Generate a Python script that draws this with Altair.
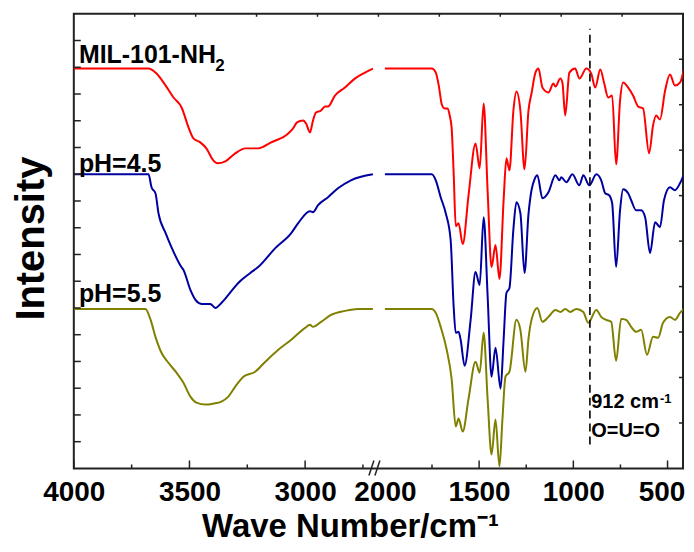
import altair as alt
import pandas as pd

FONT = "Liberation Sans"
W, H = 611, 456

# ---------------- data: wavenumber (cm-1) / intensity (a.u., offset spectra) -------------
red_left_wn = [4000, 3677, 3647, 3603, 3569, 3534, 3504, 3483, 3453, 3427, 3397, 3379, 3345, 3302, 3259,
               3203, 3147, 3073, 3052, 3035, 3009, 2996, 2979, 2966, 2953, 2931, 2914, 2901, 2871, 2828,
               2785, 2741, 2707]
red_left_val = [401, 401, 397, 384, 372, 362, 342, 331, 327, 321, 309, 306, 308, 316, 321,
                321, 327, 336, 341, 347, 349, 346, 337, 349, 357, 359, 363, 363, 374, 382,
                391, 397, 401]
red_right_wn = [2000, 1751, 1730, 1714, 1698, 1683, 1667, 1656, 1646, 1635, 1624, 1609, 1587, 1556, 1519,
                1497, 1476, 1455, 1434, 1413, 1392, 1370, 1355, 1339, 1318, 1302, 1281, 1259, 1238, 1222,
                1201, 1185, 1164, 1132, 1106, 1095, 1069, 1058, 1043, 1021, 990, 968, 931, 905, 884,
                857, 836, 815, 794, 773, 752, 736, 709, 683, 656, 630, 598, 577, 561, 540,
                513, 487, 461, 434, 413]
red_right_val = [401, 401, 397, 384, 365, 361, 361, 354, 342, 296, 243, 246, 225, 274, 326,
                 301, 366, 279, 202, 224, 190, 269, 311, 299, 359, 378, 359, 300, 359, 376,
                 397, 401, 382, 377, 386, 383, 391, 387, 354, 397, 401, 391, 401, 396, 382,
                 400, 386, 372, 374, 305, 369, 387, 382, 374, 363, 361, 316, 344, 354, 350,
                 379, 395, 384, 387, 401]

blue_left_wn = [4000, 3677, 3664, 3647, 3634, 3603, 3578, 3535, 3526, 3496, 3474, 3448, 3410, 3388, 3362,
                3332, 3289, 3237, 3203, 3129, 3060, 3030, 2979, 2966, 2944, 2901, 2858, 2802, 2707]
blue_left_val = [295, 295, 282, 276, 256, 236, 222, 202, 199, 179, 169, 165, 165, 161, 166,
                 174, 186, 196, 202, 221, 236, 246, 258, 257, 264, 272, 281, 289, 295]
blue_right_wn = [2000, 1751, 1730, 1704, 1677, 1651, 1635, 1624, 1609, 1598, 1577, 1545, 1519, 1497, 1476,
                 1455, 1434, 1413, 1386, 1370, 1355, 1339, 1318, 1302, 1281, 1259, 1238, 1222, 1206, 1191,
                 1164, 1132, 1095, 1074, 1064, 1037, 1005, 968, 947, 915, 878, 852, 831, 810, 794,
                 773, 752, 736, 709, 693, 667, 640, 619, 593, 566, 540, 519, 487, 461, 434, 413]
blue_right_val = [295, 295, 289, 272, 256, 229, 162, 136, 137, 129, 103, 149, 197, 184, 252,
                  174, 92, 121, 80, 129, 176, 181, 240, 267, 256, 196, 255, 279, 290, 294,
                  271, 277, 294, 289, 292, 287, 295, 284, 294, 284, 295, 289, 276, 274, 266,
                  202, 259, 280, 276, 269, 259, 259, 252, 216, 247, 242, 269, 282, 279, 286, 295]

olive_left_wn = [4000, 3690, 3668, 3647, 3621, 3591, 3556, 3526, 3496, 3470, 3431, 3397, 3362, 3332, 3302,
                 3267, 3216, 3172, 3116, 3060, 3000, 2979, 2966, 2931, 2888, 2828, 2772, 2707]
olive_left_val = [160, 160, 149, 132, 116, 106, 96, 86, 72, 66, 64, 65, 67, 72, 82,
                  92, 97, 107, 119, 129, 141, 144, 142, 147, 154, 158, 160, 160]
olive_right_wn = [2000, 1751, 1730, 1704, 1672, 1646, 1624, 1609, 1587, 1556, 1519, 1497, 1476, 1455, 1434,
                  1413, 1392, 1376, 1360, 1339, 1302, 1281, 1254, 1238, 1222, 1191, 1164, 1132, 1095, 1069,
                  1043, 1016, 984, 947, 921, 878, 852, 826, 799, 773, 746, 720, 693, 667, 640,
                  609, 577, 550, 524, 487, 461, 434, 413]
olive_right_val = [160, 160, 156, 142, 119, 90, 42, 50, 37, 70, 107, 96, 136, 70, 14,
                   49, 2, 50, 92, 97, 149, 139, 97, 130, 149, 161, 147, 152, 159, 157,
                   160, 157, 160, 157, 146, 159, 152, 149, 147, 108, 150, 149, 142, 137, 139,
                   114, 132, 131, 146, 152, 149, 156, 160]

# axis tick marks (wavenumbers)
major_tick_wn = [4000, 3500, 3000, 1500, 1000, 500]
label_wn = [4000, 3500, 3000, 2000, 1500, 1000, 500]
minor_tick_wn = [3750, 3250, 2750, 1750, 1250, 750]

# annotations
marker_wn = 912

# -------------------------------------------------------------------------------
# broken x axis: 4000-2707 on the left part, 2000-413 on the right part
POS = "datum.wn >= 2350 ? (4000 - datum.wn) * 0.232 : 312 + (2000 - datum.wn) * 0.189"


def to_pos(w):
    return (4000 - w) * 0.232 if w >= 2350 else 312 + (2000 - w) * 0.189


def seg(wn, val, name):
    return pd.DataFrame({"wn": wn, "val": val, "part": name})


xs = alt.Scale(domain=[0, W], nice=False, zero=False)
ys = alt.Scale(domain=[0, H], nice=False, zero=False)

X_AXIS = alt.Axis(
    values=[round(to_pos(w), 3) for w in label_wn],
    labelExpr="datum.value < 306 ? format(4000 - datum.value / 0.232, 'd') : format(2000 - (datum.value - 312) / 0.189, 'd')",
    ticks=False, tickSize=0, domain=False, grid=False,
    labelFont=FONT, labelFontSize=28, labelFontWeight="bold", labelColor="black",
    labelBaseline="alphabetic", labelPadding=32, labelFlush=False, labelOverlap=False,
    labelOffset={"condition": {"test": "datum.value > 590", "value": -6}, "value": 0},
    title="Wave Number/cm⁻¹", titleFont=FONT, titleFontSize=33, titleFontWeight="bold",
    titleColor="black", titleX=277, titleY=68, titleBaseline="alphabetic", titleAlign="center",
)
Y_AXIS = alt.Axis(
    labels=False, ticks=False, domain=False, grid=False,
    title="Intensity", titleFont=FONT, titleFontSize=40, titleFontWeight="bold",
    titleColor="black", titleAngle=270, titleX=-30, titleY=225,
    titleBaseline="alphabetic", titleAlign="center",
)


def X(field):
    return alt.X(field, scale=xs, axis=X_AXIS)


def Y(field):
    return alt.Y(field, scale=ys, axis=Y_AXIS)


def spectrum(left, right, color):
    df = pd.concat([left, right])
    return alt.Chart(df).transform_calculate(pos=POS).mark_line(
        color=color, strokeWidth=2, interpolate="monotone", clip=True
    ).encode(
        x=X("pos:Q"), y=Y("val:Q"), detail="part:N", order="pos:Q",
    )


olive = spectrum(seg(olive_left_wn, olive_left_val, "L"), seg(olive_right_wn, olive_right_val, "R"), "#808000")
blue = spectrum(seg(blue_left_wn, blue_left_val, "L"), seg(blue_right_wn, blue_right_val, "R"), "#0000A0")
red = spectrum(seg(red_left_wn, red_left_val, "L"), seg(red_right_wn, red_right_val, "R"), "#FF0000")

# dashed marker line at 912 cm-1
marker = alt.Chart(pd.DataFrame({"wn": [marker_wn], "val": [24], "val2": [441]})).transform_calculate(
    pos=POS).mark_rule(color="black", strokeWidth=1.6, strokeDash=[8, 5]).encode(
    x=X("pos:Q"), y=Y("val:Q"), y2="val2:Q")


def label(text, wn, val, size):
    return alt.Chart(pd.DataFrame({"t": [text], "wn": [wn], "val": [val]})).transform_calculate(
        pos=POS).mark_text(font=FONT, fontWeight="bold", fontSize=size, align="left",
                           baseline="alphabetic", color="black").encode(
        x=X("pos:Q"), y=Y("val:Q"), text="t:N")


texts = [
    label("MIL-101-NH", 3978, 407, 25),
    label("2", 3388, 399, 17),
    label("pH=4.5", 3978, 297, 25),
    label("pH=5.5", 3978, 167, 25),
    label("912 cm", 905, 61, 20),
    label("-1", 540, 66, 13),
    label("O=U=O", 905, 32, 20),
]

TICK = "#222222"


def xticks(wns, length):
    return alt.Chart(pd.DataFrame({"wn": wns})).transform_calculate(pos=POS).mark_rule(
        color=TICK, strokeWidth=1.5).encode(
        x=X("pos:Q"), y=alt.value(H), y2=alt.value(H - length))


bottom_major = xticks(major_tick_wn, 8)
bottom_minor = xticks(minor_tick_wn, 4)

left_ticks = alt.Chart(pd.DataFrame({"val": [i * H / 17 for i in range(1, 17)]})).mark_rule(
    color=TICK, strokeWidth=1.5).encode(y=Y("val:Q"), x=alt.value(0), x2=alt.value(7))
right_ticks = alt.Chart(pd.DataFrame({"val": [i * H / 10 for i in range(1, 10)]})).mark_rule(
    color=TICK, strokeWidth=1.5).encode(y=Y("val:Q"), x=alt.value(W), x2=alt.value(W - 4))
top_ticks = alt.Chart(pd.DataFrame({"pos": [i * W / 10 for i in range(1, 10)]})).mark_rule(
    color=TICK, strokeWidth=1.5).encode(x=X("pos:Q"), y=alt.value(0), y2=alt.value(3))

# axis-break marks "//"
breaks = alt.Chart(pd.DataFrame({"pos": [296, 302], "pos2": [301, 307], "val": [-7, -7], "val2": [8, 8]})).mark_rule(
    color=TICK, strokeWidth=1.5).encode(x=X("pos:Q"), x2="pos2:Q", y=Y("val:Q"), y2="val2:Q")

chart = alt.layer(
    olive, blue, red, marker, *texts, bottom_major, bottom_minor, left_ticks, right_ticks, top_ticks, breaks
).properties(
    width=W, height=H,
    autosize=alt.AutoSizeParams(type="none"),
    padding={"left": 66, "top": 5, "right": 3, "bottom": 75},
    background="white",
).configure_view(stroke="#222222", strokeWidth=2)

chart.save("out.html", embed_options={"renderer": "svg", "actions": False})
